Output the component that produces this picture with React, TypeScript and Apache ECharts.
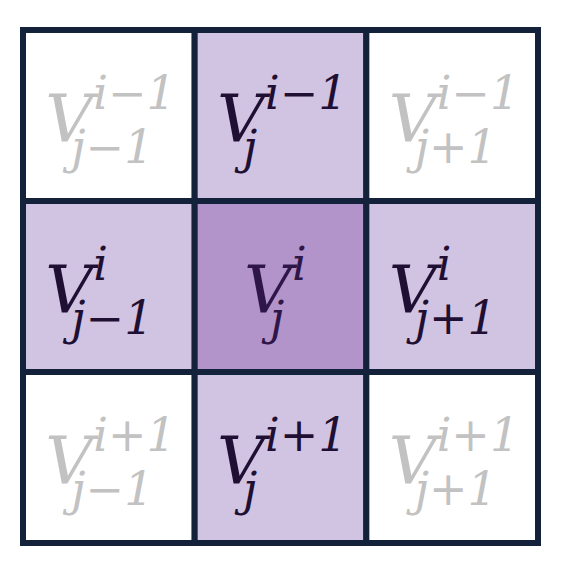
import React, { useEffect, useRef } from 'react';
import * as echarts from 'echarts';

const columns = ['j-1', 'j', 'j+1'];
const rows = ['i-1', 'i', 'i+1'];
// superscript, subscript per cell [row][col]
const supLabels = [
    ['i−1', 'i−1', 'i−1'],
    ['i', 'i', 'i'],
    ['i+1', 'i+1', 'i+1'],
];
const subLabels = [
    ['j−1', 'j', 'j+1'],
    ['j−1', 'j', 'j+1'],
    ['j−1', 'j', 'j+1'],
];
// 0 = outside stencil, 1 = neighbour, 2 = centre
const levels = [
    [0, 1, 0],
    [1, 2, 1],
    [0, 1, 0],
];

const fills = ['#ffffff', '#d1c3e2', '#b294cb'];
const textColors = ['#c2c2c2', '#1f0f33', '#2e1748'];
const FONT = '"DejaVu Serif", serif';

const App: React.FC = () => {
    const chartRef = useRef<HTMLDivElement>(null);

    useEffect(() => {
        if (!chartRef.current) return;
        const myChart = echarts.init(chartRef.current, undefined, { renderer: 'svg' });

        const data: number[][] = [];
        rows.forEach((_, r) => columns.forEach((_, c) => data.push([c, r, levels[r][c]])));

        const option = {
            animation: false,
            grid: { left: 23, top: 30, width: 515, height: 513 },
            xAxis: { type: 'category', data: columns, show: false },
            yAxis: { type: 'category', data: rows, inverse: true, show: false },
            series: [
                {
                    type: 'custom',
                    data,
                    renderItem: (params: any, api: any) => {
                        const c = api.value(0);
                        const r = api.value(1);
                        const lvl = api.value(2);
                        const [cx, cy] = api.coord([c, r]);
                        const [w, h] = api.size([1, 1]);
                        const sup = supLabels[r][c];
                        const sub = subLabels[r][c];
                        const width = 46 + Math.max(sup.length, sub.length) * 27;
                        const left = cx - width / 2;
                        const color = textColors[lvl];
                        const base = { fill: color, fontFamily: FONT, fontStyle: 'italic', verticalAlign: 'top' };
                        return {
                            type: 'group',
                            children: [
                                {
                                    type: 'rect',
                                    z2: 0,
                                    shape: { x: cx - w / 2, y: cy - h / 2, width: w, height: h },
                                    style: { fill: fills[lvl], stroke: '#13223a', lineWidth: 6 },
                                },
                                {
                                    type: 'text',
                                    z2: 10,
                                    style: { ...base, text: 'V', x: left, y: cy - 30, fontSize: 66 },
                                },
                                {
                                    type: 'text',
                                    z2: 10,
                                    style: { ...base, text: sup, x: left + 48, y: cy - 46, fontSize: 46 },
                                },
                                {
                                    type: 'text',
                                    z2: 10,
                                    style: { ...base, text: sub, x: left + 26, y: cy + 8, fontSize: 46 },
                                },
                            ],
                        };
                    },
                },
            ],
        };

        myChart.setOption(option);
        return () => {
            myChart.dispose();
        };
    }, []);

    return (
        <div
            ref={chartRef}
            style={{ position: 'absolute', left: 0, top: 0, width: '566px', height: '568px' }}
        />
    );
};

export default App;
